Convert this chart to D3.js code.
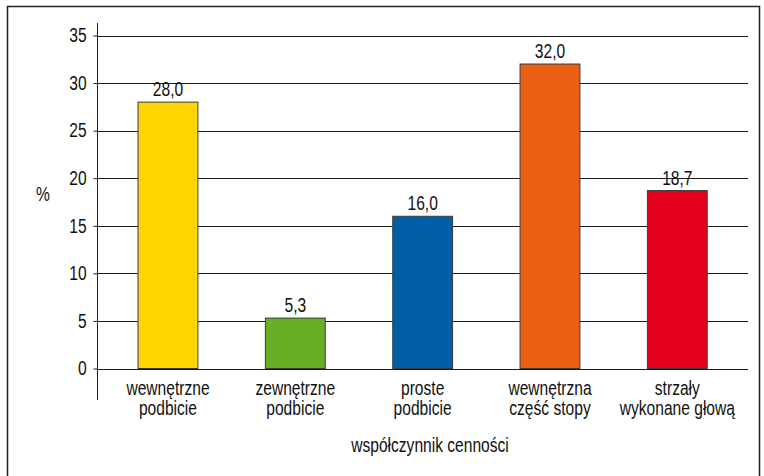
<!DOCTYPE html>
<html><head><meta charset="utf-8">
<script src="https://cdn.jsdelivr.net/npm/d3@7"></script>
<style>
html,body{margin:0;padding:0;background:#fff;}
svg text{font-family:"Liberation Sans",Arial,sans-serif;fill:#111;}
</style></head>
<body><svg id="c" width="764" height="476"></svg>
<script>
const categories = [["wewnętrzne","podbicie"],["zewnętrzne","podbicie"],["proste","podbicie"],["wewnętrzna","część stopy"],["strzały","wykonane głową"]];
const values = [28.0, 5.3, 16.0, 32.0, 18.7];
const colors = ["#FFD400","#69AE26","#005EA7","#EA5F13","#E2001C"];
const yTicks = [0,5,10,15,20,25,30,35];
const yLabel = "%";
const xTitle = "współczynnik cenności";

const FS = 19.5, SX = 0.8;
const svg = d3.select("#c");
svg.append("rect").attr("x",7.5).attr("y",6.5).attr("width",752).attr("height",472)
  .attr("fill","none").attr("stroke","#222").attr("stroke-width",1.5);

const y = d3.scaleLinear().domain([0,35]).range([368.5,35.5]);
const x = d3.scaleBand().domain(d3.range(categories.length)).range([104.3,741]).paddingInner(0.53).paddingOuter(0.265);

function ntext(g, tx, ty, lines, anchor, lh){
  const t = g.append("text").attr("transform",`translate(${tx},${ty}) scale(${SX},1)`)
    .attr("text-anchor",anchor||"middle").attr("font-size",FS);
  (Array.isArray(lines)?lines:[lines]).forEach((s,i)=>{
    t.append("tspan").attr("x",0).attr("y",i*(lh||19)).text(s);
  });
  return t;
}

// gridlines
svg.append("g").selectAll("line").data(yTicks).join("line")
  .attr("x1",97).attr("x2",748).attr("y1",d=>Math.round(y(d))+0.5).attr("y2",d=>Math.round(y(d))+0.5)
  .attr("stroke","#1a1a1a").attr("stroke-width",1);

// y axis
const yAxis = svg.append("g").attr("transform","translate(97.5,0)")
  .call(d3.axisLeft(y).tickValues(yTicks).tickSize(4).tickPadding(9.5).tickFormat(d3.format("d")));
yAxis.select(".domain").remove();
yAxis.selectAll(".tick line").attr("stroke","#1a1a1a");
yAxis.selectAll("text").attr("font-size",FS).style("font-family",null).attr("transform",`scale(${SX},1)`);
svg.append("line").attr("x1",97.5).attr("x2",97.5).attr("y1",23).attr("y2",400).attr("stroke","#1a1a1a");

// bars
svg.append("g").selectAll("rect").data(values).join("rect")
  .attr("x",(d,i)=>x(i)).attr("width",x.bandwidth())
  .attr("y",d=>y(d)).attr("height",d=>y(0)-y(d))
  .attr("fill",(d,i)=>colors[i]).attr("stroke","#3a3a3a").attr("stroke-width",1);

// value labels
const vl = svg.append("g");
values.forEach((d,i)=>ntext(vl, x(i)+x.bandwidth()/2, y(d)-6, d3.format(".1f")(d).replace(".",",")));

// category labels
const cl = svg.append("g");
categories.forEach((d,i)=>ntext(cl, x(i)+x.bandwidth()/2, 395, d, "middle", 20));

ntext(svg, 43, 201, yLabel);
ntext(svg, 430, 452, xTitle);
</script></body></html>
